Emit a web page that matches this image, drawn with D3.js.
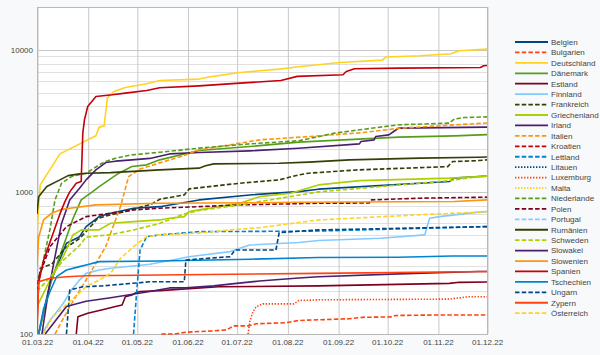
<!DOCTYPE html>
<html><head><meta charset="utf-8">
<script src="https://cdn.jsdelivr.net/npm/d3@7"></script>
<style>
html,body{margin:0;padding:0;background:#f8f9fb;}
svg{display:block;font-family:"Liberation Sans",Arial,sans-serif;}
</style></head>
<body><svg id="c" width="600" height="355"></svg>
<script>
// ---- data (date "dd.mm" in 2022, value) ----
const belgien = [["02.03",100],["09.03",229],["14.03",315],["19.03",435],["27.03",484],["31.03",570],["08.04",670],["15.04",708],["29.04",768],["15.05",787],["08.06",878],["09.07",952],["08.08",1005],["20.08",1045],["08.11",1182],["11.11",1249],["26.11",1282],["01.12",1290]];
const bulgarien = [["16.05",100],["24.05",100],["31.05",103],["16.06",105],["25.06",107],["29.06",114],["08.07",114],["13.07",118],["31.07",120],["07.08",124],["12.08",125],["08.09",128],["16.09",131],["04.10",132],["06.10",135],["29.10",136],["01.12",136]];
const deutschland = [["01.03",500],["02.03",800],["03.03",1120],["15.03",1852],["06.04",2480],["08.04",2855],["11.04",2915],["13.04",4570],["17.04",5085],["24.04",5430],["07.05",5765],["15.05",6080],["08.06",6220],["14.06",6430],["03.07",6920],["27.07",7310],["08.08",7600],["02.09",8140],["28.09",8460],["30.09",8890],["21.10",9080],["09.11",9370],["14.11",9840],["01.12",10100]];
const daenemark = [["02.03",100],["05.03",140],["09.03",220],["14.03",330],["19.03",480],["23.03",650],["28.03",878],["04.04",1005],["08.04",1090],["14.04",1215],["20.04",1354],["28.04",1507],["07.05",1550],["15.05",1680],["08.06",1954],["09.07",2085],["08.08",2240],["08.10",2428],["11.11",2480],["01.12",2530]];
const estland = [["25.03",100],["26.03",132],["29.03",136],["01.04",140],["10.04",148],["18.04",156],["22.04",160],["24.04",183],["28.04",188],["30.04",194],["03.05",199],["15.05",202],["20.06",215],["20.08",218],["08.11",227],["14.11",231],["01.12",232]];
const finnland = [["04.03",100],["09.03",125],["17.03",164],["22.03",204],["27.03",240],["31.03",267],["08.04",282],["15.04",290],["21.04",295],["09.05",310],["02.06",350],["27.06",380],["03.07",401],["09.07",423],["08.08",440],["20.08",455],["27.09",472],["24.10",498],["26.10",602],["27.10",653],["02.11",670],["26.11",720],["01.12",726]];
const frankreich = [["02.03",230],["03.03",290],["10.03",310],["18.03",400],["27.03",470],["01.04",540],["07.04",650],["15.04",690],["25.04",730],["03.05",780],["10.05",820],["15.05",888],["30.05",952],["02.06",1050],["03.07",1151],["27.07",1215],["08.08",1318],["14.08",1354],["13.09",1428],["07.11",1507],["10.11",1635],["26.11",1661],["01.12",1680]];
const griechenland = [["01.03",156],["09.03",240],["17.03",350],["23.03",498],["25.03",512],["28.03",540],["08.04",540],["15.04",602],["29.04",618],["15.05",635],["21.05",653],["30.05",670],["02.06",726],["08.06",747],["03.07",832],["15.07",926],["03.08",979],["20.08",1120],["14.09",1200],["08.11",1250],["01.12",1290]];
const irland = [["04.03",100],["08.03",200],["12.03",350],["16.03",600],["21.03",878],["27.03",1062],["31.03",1215],["06.04",1428],["12.04",1608],["18.04",1645],["28.04",1680],["09.05",1720],["21.05",1850],["08.06",1891],["09.07",1944],["08.08",2030],["14.09",2178],["15.09",2261],["23.09",2324],["24.09",2451],["02.10",2520],["05.10",2660],["08.10",2810],["01.12",2855]];
const italien = [["12.03",100],["21.03",156],["31.03",240],["12.04",412],["16.04",550],["21.04",787],["26.04",1282],["03.05",1450],["09.05",1520],["15.05",1600],["28.05",1773],["08.06",1976],["27.06",2143],["15.07",2324],["14.08",2451],["14.09",2600],["08.10",2800],["08.11",2950],["01.12",3050]];
const kroatien = [];
const lettland = [["29.04",100],["01.05",204],["03.05",390],["07.05",484],["15.05",498],["08.06",525],["20.08",530],["01.12",570]];
const litauen = [];
const luxemburg = [["08.07",100],["09.07",122],["11.07",144],["13.07",156],["17.07",163],["05.08",163],["08.08",172],["20.08",174],["08.11",176],["20.11",183],["01.12",183]];
const malta = [];
const niederlande = [["01.03",200],["03.03",260],["06.03",380],["09.03",550],["12.03",878],["16.03",1151],["22.03",1282],["31.03",1354],["08.04",1550],["12.04",1635],["18.04",1727],["28.04",1823],["15.05",1900],["08.06",2031],["09.07",2178],["08.08",2290],["30.08",2590],["14.09",2734],["08.10",2965],["08.11",3047],["11.11",3253],["17.11",3336],["01.12",3370]];
const polen = [["01.03",200],["02.03",250],["09.03",412],["19.03",570],["27.03",635],["31.03",670],["15.04",708],["29.04",747],["15.05",768],["08.06",787],["03.07",810],["20.08",832],["20.09",835],["21.09",878],["21.10",903],["01.12",918]];
const portugal = [];
const rumaenien = [["01.03",700],["02.03",926],["07.03",1090],["15.03",1215],["20.03",1302],["27.03",1339],["01.04",1354],["15.04",1367],["15.05",1428],["08.06",1469],["12.06",1525],["17.06",1574],["27.07",1592],["14.08",1619],["08.09",1680],["21.10",1727],["26.11",1755],["01.12",1760]];
const schweden = [["01.03",200],["09.03",250],["17.03",330],["27.03",420],["31.03",480],["15.04",500],["29.04",540],["15.05",600],["30.05",700],["08.06",740],["03.07",810],["20.08",1000],["08.11",1200],["26.11",1282],["01.12",1290]];
const slowakei = [["06.03",100],["19.03",156],["31.03",170],["15.04",180],["09.05",199],["21.05",211],["31.05",211],["17.06",218],["01.07",227],["15.07",236],["08.08",248],["20.08",253],["08.10",265],["26.11",275],["01.12",275]];
const slowenien = [["01.03",300],["02.03",480],["05.03",635],["10.03",708],["15.03",747],["21.03",768],["06.04",810],["15.05",832],["09.07",838],["08.08",845],["11.11",855],["01.12",878]];
const spanien = [["01.03",120],["02.03",230],["05.03",330],["10.03",480],["15.03",700],["18.03",850],["21.03",1000],["25.03",1151],["28.03",1182],["29.03",2602],["30.03",3214],["01.04",3988],["06.04",4690],["16.04",4822],["24.04",4955],["07.05",5168],["15.05",5400],["08.06",5575],["03.07",5825],["28.07",6080],["07.08",6500],["04.09",6668],["06.09",7035],["11.09",7350],["09.10",7433],["27.11",7500],["29.11",7717],["01.12",7750]];
const tschechien = [["02.03",100],["05.03",150],["09.03",200],["13.03",253],["19.03",282],["27.03",298],["31.03",306],["08.04",323],["15.05",326],["09.07",336],["20.08",345],["08.10",347],["10.11",354],["01.12",354]];
const ungarn = [["19.03",100],["21.03",204],["29.03",215],["10.04",218],["09.05",233],["30.05",233],["31.05",332],["27.06",350],["30.06",390],["25.07",390],["27.07",517],["20.08",540],["01.12",570]];
const zypern = [["01.03",100],["02.03",233],["09.03",247],["19.03",253],["31.03",257],["15.05",260],["20.08",267],["01.12",275]];
const oesterreich = [["05.03",100],["10.03",130],["31.03",215],["08.04",240],["15.04",267],["21.04",340],["29.04",412],["07.05",484],["15.05",498],["08.06",513],["27.06",540],["15.07",560],["20.08",635],["21.10",690],["01.12",726]];

const names = ["Belgien","Bulgarien","Deutschland","Dänemark","Estland","Finnland","Frankreich","Griechenland","Irland","Italien","Kroatien","Lettland","Litauen","Luxemburg","Malta","Niederlande","Polen","Portugal","Rumänien","Schweden","Slowakei","Slowenien","Spanien","Tschechien","Ungarn","Zypern","Österreich"];
const seriesData = [belgien,bulgarien,deutschland,daenemark,estland,finnland,frankreich,griechenland,irland,italien,kroatien,lettland,litauen,luxemburg,malta,niederlande,polen,portugal,rumaenien,schweden,slowakei,slowenien,spanien,tschechien,ungarn,zypern,oesterreich];
const colors = ["#004586","#ff420e","#ffd320","#579d1c","#7e0021","#83caff","#314004","#aecf00","#4b1f6f","#ff950e","#c5000b","#0084d1","#004586","#ff420e","#ffd320","#579d1c","#7e0021","#83caff","#314004","#aecf00","#4b1f6f","#ff950e","#c5000b","#0084d1","#004586","#ff420e","#ffd320"];
const styles = ["solid","dash","solid","solid","solid","solid","dash","solid","solid","dash","dash","dash","dot","dot","dot","dash","dash","dash","solid","dash","solid","solid","solid","solid","dash","solid","dash"];
const xTicks = ["01.03","01.04","01.05","01.06","01.07","01.08","01.09","01.10","01.11","01.12"];
const yTicks = [100,1000,10000];

// ---- chart ----
const parse = s => d3.timeParse("%d.%m.%Y")(s + ".2022");
const svg = d3.select("#c");
const L = 37, R = 487, T = 7, B = 334;
const x = d3.scaleTime().domain([parse("01.03"), parse("01.12")]).range([L, R]);
const y = d3.scaleLog().domain([100, 20000]).range([B, T]);

svg.append("rect").attr("x", L).attr("y", T).attr("width", R - L).attr("height", B - T).attr("fill", "#fff");

const minor = [];
[100, 1000, 10000].forEach(d => { for (let k = 1; k <= 9; k++) { const v = d * k; if (v > 100 && v <= 20000) minor.push(v); } });
svg.append("g").selectAll("line").data(minor).join("line")
  .attr("x1", L).attr("x2", R).attr("y1", d => Math.round(y(d)) + 0.5).attr("y2", d => Math.round(y(d)) + 0.5)
  .attr("stroke", d => [1000, 10000].includes(d) ? "#c8c8c8" : "#e0e0e0").attr("stroke-width", 1);

const xAxis = d3.axisBottom(x).tickValues(xTicks.map(parse)).tickFormat(d3.timeFormat("%d.%m.%y")).tickSize(-(B - T)).tickSizeOuter(0);
const gx = svg.append("g").attr("transform", `translate(0,${B})`).call(xAxis);
gx.select(".domain").remove();
gx.selectAll(".tick line").attr("stroke", "#c8c8c8").attr("transform", "translate(0.5,0)");
gx.selectAll(".tick text").attr("fill", "#444").attr("font-size", 8).attr("dy", "1.0em").attr("y", 3);

const yAxis = d3.axisLeft(y).tickValues(yTicks).tickFormat(d3.format("d")).tickSize(0);
const gy = svg.append("g").attr("transform", `translate(${L},0)`).call(yAxis);
gy.select(".domain").remove();
gy.selectAll(".tick text").attr("fill", "#444").attr("font-size", 8).attr("x", -4);

svg.append("rect").attr("x", L + 0.5).attr("y", T + 0.5).attr("width", R - L).attr("height", B - T)
  .attr("fill", "none").attr("stroke", "#b8b8b8");

svg.append("clipPath").attr("id", "clip").append("rect").attr("x", L).attr("y", T).attr("width", R - L + 1).attr("height", B - T + 1);

const dashOf = s => s === "dash" ? "4.5,2.2" : s === "dot" ? "1.4,1.6" : null;
const line = d3.line().x(d => x(parse(d[0]))).y(d => y(d[1]));
const gl = svg.append("g").attr("clip-path", "url(#clip)");
seriesData.forEach((data, i) => {
  if (!data.length) return;
  gl.append("path").attr("d", line(data)).attr("fill", "none")
    .attr("stroke", colors[i]).attr("stroke-width", 1.6)
    .attr("stroke-dasharray", dashOf(styles[i])).attr("stroke-linejoin", "round");
});

const lg = svg.append("g");
names.forEach((n, i) => {
  const yy = 42 + i * 10.43;
  lg.append("line").attr("x1", 515).attr("x2", 548).attr("y1", yy).attr("y2", yy)
    .attr("stroke", colors[i]).attr("stroke-width", 1.8).attr("stroke-dasharray", dashOf(styles[i]));
  lg.append("text").attr("x", 551).attr("y", yy).attr("dy", "0.35em").attr("font-size", 8).attr("fill", "#444").text(n);
});
</script></body></html>
